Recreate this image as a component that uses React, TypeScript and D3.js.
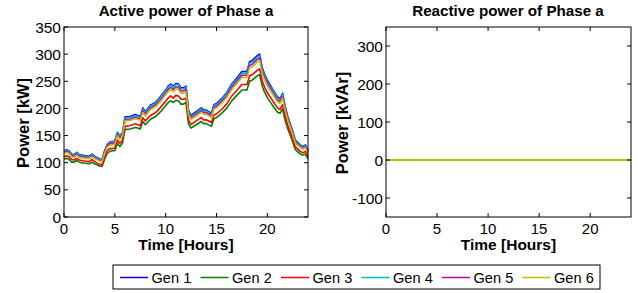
import React from 'react';
import * as d3 from 'd3';

// hours of the day (15 min samples where the curve changes fast)
const hours = [0, 0.25, 0.5, 0.75, 1, 1.25, 1.5, 2, 2.5, 2.75, 3, 3.5, 3.75, 4, 4.25, 4.5, 4.75, 5, 5.25, 5.5, 5.75, 6, 6.5, 7, 7.25, 7.5, 7.75, 8, 8.5, 9, 9.5, 10, 10.25, 10.5, 10.75, 11, 11.25, 11.5, 11.75, 12, 12.25, 12.5, 13, 13.5, 13.75, 14, 14.5, 14.75, 15, 15.5, 16, 16.5, 17, 17.5, 18, 18.25, 18.5, 19, 19.25, 19.5, 19.75, 20, 20.5, 21, 21.25, 21.5, 21.75, 22, 22.5, 22.75, 23, 23.25, 23.5, 23.75, 24];

const gen1P = [122, 124, 122, 116, 115, 119, 115, 113, 112, 116, 112, 107, 106, 122, 134, 138, 139, 140, 156, 149, 155, 184, 185, 189, 187, 185, 201, 194, 206, 211, 222, 234, 241, 245, 241, 246, 245, 238, 238, 241, 196, 187, 194, 201, 197, 197, 191, 207, 209, 218, 229, 245, 256, 268, 268, 286, 288, 297, 300, 275, 262, 252, 236, 221, 218, 228, 204, 186, 158, 142, 137, 133, 130, 133, 122];
const gen2P = [107, 108, 107, 101, 101, 104, 101, 99, 98, 101, 98, 94, 93, 107, 117, 121, 122, 122, 136, 130, 136, 161, 162, 165, 164, 162, 176, 170, 180, 185, 194, 205, 211, 214, 211, 215, 214, 208, 208, 211, 171, 164, 170, 176, 172, 172, 167, 181, 183, 191, 200, 214, 224, 234, 234, 250, 252, 260, 262, 241, 229, 220, 206, 193, 191, 199, 178, 163, 138, 124, 120, 116, 114, 116, 107];
const gen3P = [111, 113, 111, 106, 105, 108, 105, 103, 102, 106, 102, 97, 96, 111, 122, 126, 126, 127, 142, 136, 141, 167, 168, 172, 170, 168, 183, 177, 187, 192, 202, 213, 219, 223, 219, 224, 223, 217, 217, 219, 178, 170, 177, 183, 179, 179, 174, 188, 190, 198, 208, 223, 233, 244, 244, 260, 262, 270, 273, 250, 238, 229, 215, 201, 198, 207, 186, 169, 144, 129, 125, 121, 118, 121, 111];
const gen4P = [121, 123, 121, 115, 114, 118, 114, 112, 111, 115, 111, 106, 105, 121, 133, 137, 138, 139, 155, 148, 154, 182, 183, 187, 185, 183, 199, 192, 204, 209, 220, 232, 239, 243, 239, 244, 243, 236, 236, 239, 194, 185, 192, 199, 195, 195, 189, 205, 207, 216, 227, 243, 253, 265, 265, 283, 285, 294, 297, 272, 259, 249, 234, 219, 216, 226, 202, 184, 156, 141, 136, 132, 129, 132, 121];
const gen5P = [119, 121, 119, 113, 112, 116, 112, 110, 109, 113, 109, 104, 103, 119, 131, 135, 136, 137, 152, 145, 151, 179, 180, 184, 182, 180, 196, 189, 201, 206, 216, 228, 235, 239, 235, 240, 239, 232, 232, 235, 191, 182, 189, 196, 192, 192, 186, 202, 204, 213, 223, 239, 250, 261, 261, 279, 281, 290, 293, 268, 255, 246, 230, 215, 213, 222, 199, 181, 154, 138, 134, 130, 127, 130, 119];
const gen6P = [117, 119, 117, 111, 110, 114, 110, 108, 108, 111, 108, 103, 102, 117, 129, 132, 133, 134, 150, 143, 149, 177, 178, 181, 180, 178, 193, 186, 198, 203, 213, 225, 231, 235, 231, 236, 235, 228, 228, 231, 188, 180, 186, 193, 189, 189, 183, 199, 201, 209, 220, 235, 246, 257, 257, 275, 276, 285, 288, 264, 252, 242, 227, 212, 209, 219, 196, 179, 152, 136, 132, 128, 125, 128, 117];

// reactive power is flat zero for every generator
const qHours = [0, 6, 12, 18, 24];
const gen1Q = [0, 0, 0, 0, 0];
const gen2Q = [0, 0, 0, 0, 0];
const gen3Q = [0, 0, 0, 0, 0];
const gen4Q = [0, 0, 0, 0, 0];
const gen5Q = [0, 0, 0, 0, 0];
const gen6Q = [0, 0, 0, 0, 0];

const genNames = ['Gen 1', 'Gen 2', 'Gen 3', 'Gen 4', 'Gen 5', 'Gen 6'];
const genColors = ['#0000ff', '#008000', '#ff0000', '#00bfbf', '#bf00bf', '#bfbf00'];
const activeSeries = [gen1P, gen2P, gen3P, gen4P, gen5P, gen6P];
const reactiveSeries = [gen1Q, gen2Q, gen3Q, gen4Q, gen5Q, gen6Q];

const xTicks = [0, 5, 10, 15, 20];
const pTicks = [0, 50, 100, 150, 200, 250, 300, 350];
const qTicks = [-100, 0, 100, 200, 300];

const FONT = 'Liberation Sans, Arial, sans-serif';

type PanelProps = {
  left: number; right: number; top: number; bottom: number;
  yDomain: [number, number]; yTicks: number[];
  xs: number[]; series: number[][]; lw: number;
  title: string; ylabel: string; titleX: number; ylabelX: number;
};

function Panel(p: PanelProps) {
  const x = d3.scaleLinear().domain([0, 24]).range([p.left, p.right]);
  const y = d3.scaleLinear().domain(p.yDomain).range([p.bottom, p.top]);
  const tl = 4;
  return (
    <g>
      {p.series.map((s, i) => {
        const line = d3.line<number>()
          .x((_, j) => x(p.xs[j]))
          .y(d => y(d));
        return <path key={i} d={line(s) || ''} fill="none" stroke={genColors[i]} strokeWidth={p.lw} strokeLinejoin="round" />;
      })}
      <rect x={p.left} y={p.top} width={p.right - p.left} height={p.bottom - p.top} fill="none" stroke="#000" strokeWidth={1} />
      {xTicks.map(t => (
        <g key={'x' + t}>
          <line x1={x(t)} x2={x(t)} y1={p.bottom} y2={p.bottom - tl} stroke="#000" />
          <line x1={x(t)} x2={x(t)} y1={p.top} y2={p.top + tl} stroke="#000" />
          <text x={x(t)} y={233.5} textAnchor="middle" fontSize={15} fontFamily={FONT}>{t}</text>
        </g>
      ))}
      {p.yTicks.map(t => (
        <g key={'y' + t}>
          <line x1={p.left} x2={p.left + tl} y1={y(t)} y2={y(t)} stroke="#000" />
          <line x1={p.right} x2={p.right - tl} y1={y(t)} y2={y(t)} stroke="#000" />
          <text x={p.left - 3} y={y(t)} dy="0.36em" textAnchor="end" fontSize={15.5} fontFamily={FONT}>{t}</text>
        </g>
      ))}
      <text x={p.titleX} y={16} textAnchor="middle" fontSize={15.2} fontWeight="bold" fontFamily={FONT}>{p.title}</text>
      <text x={(p.left + p.right) / 2} y={250} textAnchor="middle" fontSize={15.5} fontWeight="bold" fontFamily={FONT}>Time [Hours]</text>
      <text transform={`translate(${p.ylabelX},${(p.top + p.bottom) / 2 + 1}) rotate(-90)`} textAnchor="middle" fontSize={16.5} fontWeight="bold" fontFamily={FONT}>{p.ylabel}</text>
    </g>
  );
}

export default function App() {
  const legendX = d3.scaleLinear().domain([0, 5]).range([120, 522.5]);
  return (
    <div style={{ position: 'absolute', left: 0, top: 0 }}>
      <svg width={638} height={293} style={{ display: 'block', background: '#fff' }}>
        <Panel left={64} right={308} top={27} bottom={217} yDomain={[0, 350]} yTicks={pTicks} lw={1.6}
          xs={hours} series={activeSeries} title="Active power of Phase a" ylabel="Power [kW]" titleX={186} ylabelX={29} />
        <Panel left={386} right={631} top={27} bottom={217} yDomain={[-150, 350]} yTicks={qTicks} lw={2}
          xs={qHours} series={reactiveSeries} title="Reactive power of Phase a" ylabel="Power [kVAr]" titleX={508} ylabelX={348} />
        <rect x={113} y={265} width={487} height={24} fill="#fff" stroke="#000" strokeWidth={1} />
        {genNames.map((n, i) => (
          <g key={n}>
            <line x1={legendX(i)} x2={legendX(i) + 28} y1={277.5} y2={277.5} stroke={genColors[i]} strokeWidth={1.5} />
            <text x={legendX(i) + 31.5} y={277.5} dy="0.36em" fontSize={14.6} fontFamily={FONT}>{n}</text>
          </g>
        ))}
      </svg>
    </div>
  );
}
